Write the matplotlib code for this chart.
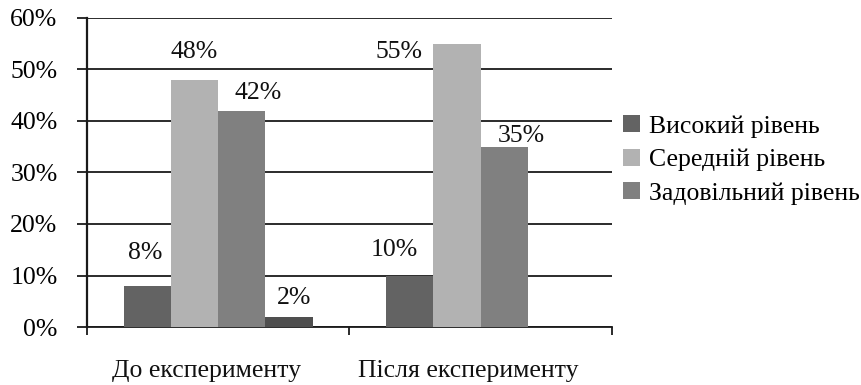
import matplotlib
matplotlib.use("Agg")
import matplotlib.pyplot as plt
import numpy as np

plt.rcParams['font.family'] = ['Liberation Serif', 'DejaVu Serif']

categories = ["До експерименту", "Після експерименту"]
series_names = ["Високий рівень", "Середній рівень", "Задовільний рівень", "Низький рівень"]
values = [
    [0.08, 0.10],   # Високий
    [0.48, 0.55],   # Середній
    [0.42, 0.35],   # Задовільний
    [0.02, 0.00],   # Низький (no legend entry)
]
labels = [
    ["8%", "10%"],
    ["48%", "55%"],
    ["42%", "35%"],
    ["2%", None],
]
yticks = [0, 0.1, 0.2, 0.3, 0.4, 0.5, 0.6]
ytick_labels = ["0%", "10%", "20%", "30%", "40%", "50%", "60%"]

colors = ["#636363", "#b2b2b2", "#808080", "#4f4f4f"]
# label offsets (pixels) relative to bar-top center, as placed in the original
label_offsets = [
    [(-2, 33), (-16, 25)],
    [(0, 28), (-58, -8)],
    [(16, 18), (17, 11)],
    [(5, 19), (0, 0)],
]

W, H = 861, 385
fig = plt.figure(figsize=(W / 100, H / 100), dpi=100)
ax = fig.add_axes([87 / W, 1 - 327 / H, (612 - 87) / W, (327 - 18) / H])

fs = 18.5
x = np.arange(len(categories))
bw = 0.18
for i, (vals, col) in enumerate(zip(values, colors)):
    xs = x + (i - 1.5) * bw
    ax.bar(xs, vals, width=bw, color=col, zorder=3,
           label=series_names[i] if i < 3 else None)
    for j, (xx, v) in enumerate(zip(xs, vals)):
        lab = labels[i][j]
        if lab is None:
            continue
        dx, dy = label_offsets[i][j]
        ax.annotate(lab, xy=(xx, v), xytext=(dx, dy), textcoords='offset pixels',
                    ha='center', va='center', fontsize=fs, color='#111111', zorder=4)

ax.set_xlim(-0.5, 1.5)
ax.set_ylim(0, 0.6)
ax.set_yticks(yticks)
ax.set_yticklabels(ytick_labels, fontsize=fs)
ax.yaxis.grid(True, color='#1a1a1a', linewidth=1.3, zorder=1)
ax.tick_params(axis='y', direction='out', length=7.2, width=1.3, color='#1a1a1a', pad=14)

ax.set_xticks([-0.5, 0.5, 1.5])
ax.set_xticklabels([])
ax.tick_params(axis='x', direction='out', length=5.8, width=1.3, color='#1a1a1a')

for j, cat in enumerate(categories):
    ax.annotate(cat, xy=(x[j], 0), xycoords=('data', 'axes fraction'),
                xytext=(-12, -44), textcoords='offset pixels',
                ha='center', va='center', fontsize=fs, color='#111111')

for s in ['top', 'right']:
    ax.spines[s].set_visible(False)
ax.spines['left'].set_color('#1a1a1a')
ax.spines['left'].set_linewidth(1.6)
ax.spines['bottom'].set_color('#1a1a1a')
ax.spines['bottom'].set_linewidth(1.3)
ax.spines['left'].set_zorder(5)

leg = fig.legend(loc='center left', bbox_to_anchor=(623 / W, 1 - 160 / H),
                 frameon=False, fontsize=fs, handlelength=0.65, handleheight=0.65,
                 handletextpad=0.38, labelspacing=0.42, borderpad=0, borderaxespad=0)

fig.savefig("out.png", dpi=100)
